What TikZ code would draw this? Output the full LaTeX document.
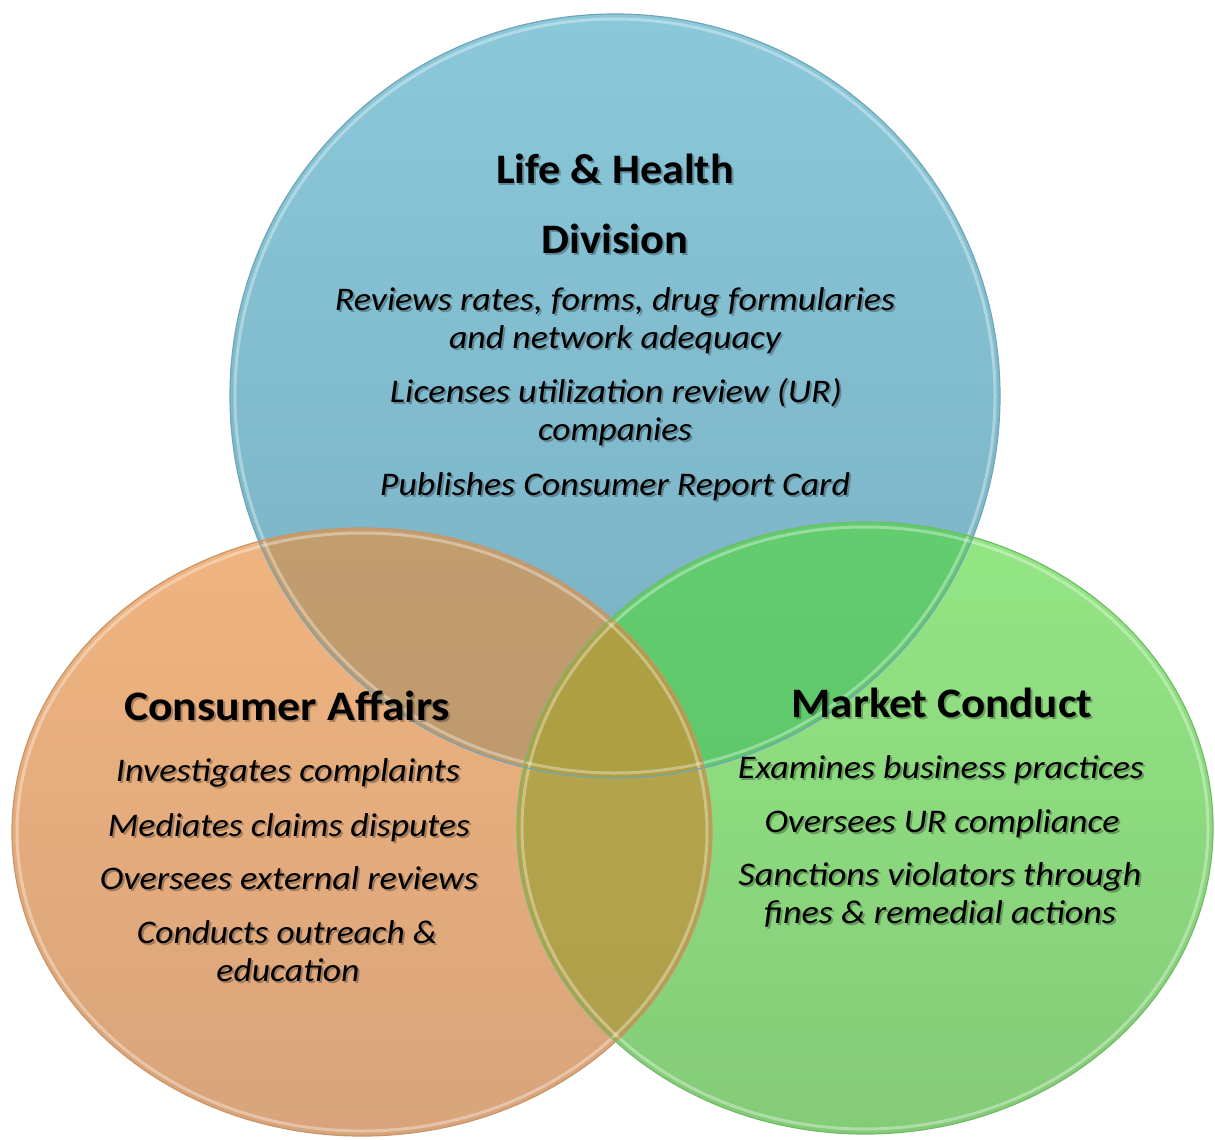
\documentclass[tikz,border=0pt]{standalone}
\usepackage{graphicx}
\usepackage{fontspec}
\setmainfont{Carlito}

\definecolor{blueT}{HTML}{8AC8DA}
\definecolor{blueB}{HTML}{78B0C2}
\definecolor{orangeT}{HTML}{F0B47F}
\definecolor{orangeB}{HTML}{D8A47B}
\definecolor{greenT}{HTML}{94E684}
\definecolor{greenB}{HTML}{84CB78}
\definecolor{boT}{HTML}{C29D6E}
\definecolor{boB}{HTML}{B8956A}
\definecolor{bgT}{HTML}{62CC6E}
\definecolor{bgB}{HTML}{5AC266}
\definecolor{ogT}{HTML}{B6A74A}
\definecolor{ogB}{HTML}{B09F4C}
\definecolor{bogT}{HTML}{AFA043}
\definecolor{bogB}{HTML}{AC9D44}
\definecolor{blueEdge}{HTML}{6FA5B8}
\definecolor{orangeEdge}{HTML}{C99568}
\definecolor{greenEdge}{HTML}{72BB66}

% label of a given width with a soft drop shadow: name, style, x, y, width, text
\newcommand\shlabel[6]{%
  \node[#2, text=black, text opacity=0.28] (#1s) at (#3+2,#4+2) {\resizebox{#5pt}{\height}{#6}};
  \node[#2] (#1) at (#3,#4) {\resizebox{#5pt}{\height}{#6}};}

\begin{document}
\begin{tikzpicture}[x=1pt,y=-1pt,
  pB/.style={insert path={(615,396) ellipse [x radius=385, y radius=382]}},
  pO/.style={insert path={(362,832) ellipse [x radius=350, y radius=304]}},
  pG/.style={insert path={(865,828) ellipse [x radius=348, y radius=306]}},
  head/.style={font=\fontsize{42}{42}\selectfont\bfseries, inner sep=0pt, anchor=base},
  body/.style={font=\fontsize{33}{33}\selectfont\itshape, inner sep=0pt, anchor=base},
  edge/.style={line width=1.2pt},
  gloss/.style={draw=white, draw opacity=0.35, line width=3pt}]
\useasboundingbox (0,0) rectangle (1215,1140);

% single circles
\shade[top color=blueT, bottom color=blueB, pB];
\shade[top color=orangeT, bottom color=orangeB, pO];
\shade[top color=greenT, bottom color=greenB, pG];

% pairwise overlaps
\begin{scope}
  \clip[pB];
  \shade[top color=boT, bottom color=boB, pO];
  \shade[top color=bgT, bottom color=bgB, pG];
\end{scope}
\begin{scope}
  \clip[pO];
  \shade[top color=ogT, bottom color=ogB, pG];
\end{scope}
% centre of all three
\begin{scope}
  \clip[pB];
  \clip[pO];
  \shade[top color=bogT, bottom color=bogB, pG];
\end{scope}

% glassy rims
\draw[gloss] (615,396) ellipse [x radius=380, y radius=377];
\draw[gloss] (362,832) ellipse [x radius=345, y radius=299];
\draw[gloss] (865,828) ellipse [x radius=343, y radius=301];
\draw[edge, draw=blueEdge, pB];
\draw[edge, draw=orangeEdge, pO];
\draw[edge, draw=greenEdge, pG];

% Life & Health Division
\shlabel{lh1}{head}{615}{183}{238}{Life \& Health}
\shlabel{lh2}{head}{615}{253}{147}{Division}
\shlabel{lh3}{body}{615}{310}{560}{Reviews rates, forms, drug formularies}
\shlabel{lh4}{body}{615}{348}{332}{and network adequacy}
\shlabel{lh5}{body}{616}{402}{452}{Licenses utilization review (UR)}
\shlabel{lh6}{body}{615}{440}{154}{companies}
\shlabel{lh7}{body}{615}{495}{470}{Publishes Consumer Report Card}

% Consumer Affairs
\shlabel{ca1}{head}{287}{720}{326}{Consumer Affairs}
\shlabel{ca2}{body}{288}{781}{344}{Investigates complaints}
\shlabel{ca3}{body}{289}{836}{362}{Mediates claims disputes}
\shlabel{ca4}{body}{289}{889}{378}{Oversees external reviews}
\shlabel{ca5}{body}{287}{943}{300}{Conducts outreach \&}
\shlabel{ca6}{body}{288}{981}{143}{education}

% Market Conduct
\shlabel{mc1}{head}{942}{717}{301}{Market Conduct}
\shlabel{mc2}{body}{941}{778}{406}{Examines business practices}
\shlabel{mc3}{body}{942}{832}{355}{Oversees UR compliance}
\shlabel{mc4}{body}{940}{885}{403}{Sanctions violators through}
\shlabel{mc5}{body}{940}{923}{352}{fines \& remedial actions}
\end{tikzpicture}
\end{document}
